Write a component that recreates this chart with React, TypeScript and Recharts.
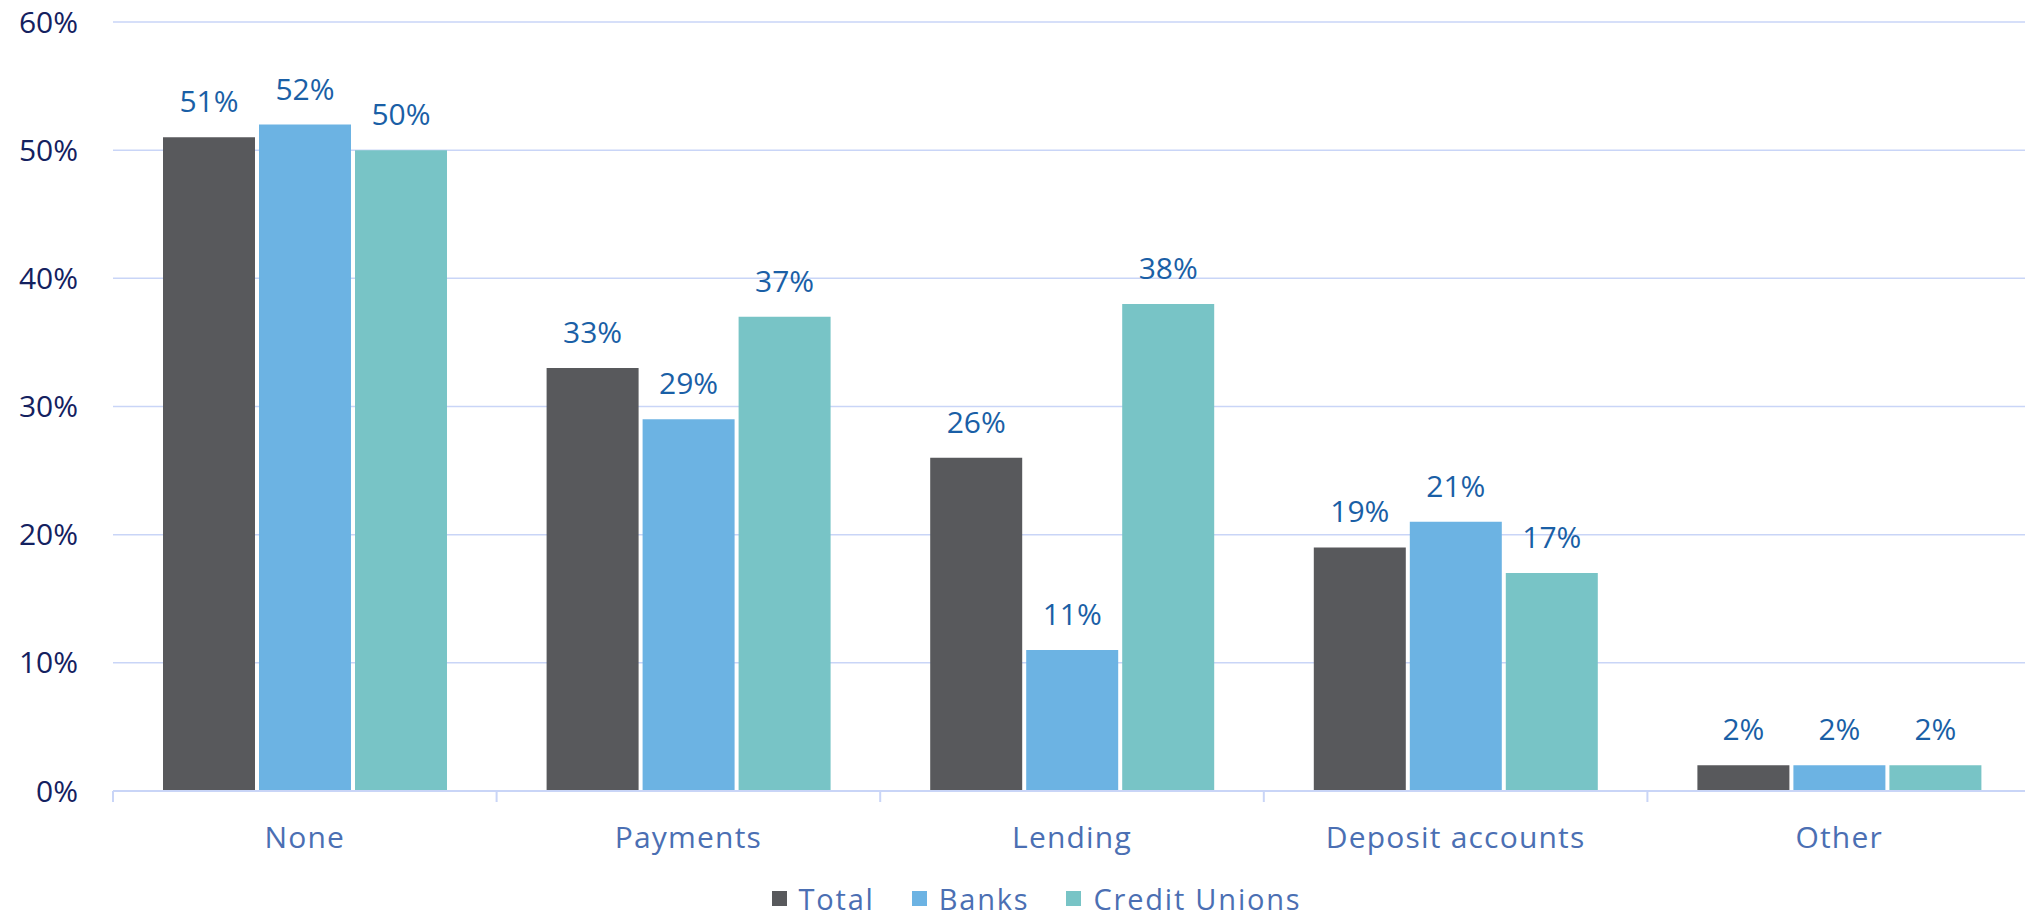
import React from "react";
import { BarChart, Bar, XAxis, YAxis, CartesianGrid, LabelList, Legend } from "recharts";

const categories = ["None", "Payments", "Lending", "Deposit accounts", "Other"];
const totalValues = [51, 33, 26, 19, 2];
const bankValues = [52, 29, 11, 21, 2];
const creditUnionValues = [50, 37, 38, 17, 2];
const yTicks = [0, 10, 20, 30, 40, 50, 60];

const series = [
  { key: "total", name: "Total", color: "#58595c" },
  { key: "banks", name: "Banks", color: "#6cb3e3" },
  { key: "cu", name: "Credit Unions", color: "#78c4c6" },
];

const data = categories.map((c, i) => ({
  category: c,
  total: totalValues[i],
  banks: bankValues[i],
  cu: creditUnionValues[i],
}));

const FONT = "'Open Sans', sans-serif";
const GRID = "#c9d5f7";

const XTick = (props: any) => {
  const { x, y, payload, index } = props;
  const half = payload && payload.offset ? payload.offset : 191;
  return (
    <g>
      <line x1={x - half} y1={y} x2={x - half} y2={y + 11} stroke={GRID} strokeWidth={2} />
      {index === categories.length - 1 ? (
        <line x1={x + half} y1={y} x2={x + half} y2={y + 11} stroke={GRID} strokeWidth={2} />
      ) : null}
      <text
        x={x}
        y={y + 57}
        textAnchor="middle"
        fill="#4b6fb3"
        fontSize={30}
        fontFamily={FONT}
        letterSpacing={1.2}
      >
        {payload.value}
      </text>
    </g>
  );
};

const LegendContent = () => (
  <div
    style={{
      display: "flex",
      justifyContent: "center",
      alignItems: "center",
      paddingLeft: 48,
      fontFamily: FONT,
      fontSize: 29,
      color: "#4b6fb3",
      lineHeight: "normal",
      letterSpacing: "1.8px",
    }}
  >
    {series.map((s, i) => (
      <div key={s.key} style={{ display: "flex", alignItems: "center", marginLeft: i === 0 ? 0 : 37 }}>
        <span style={{ width: 15, height: 15, background: s.color, display: "inline-block", marginRight: 12 }} />
        <span>{s.name}</span>
      </div>
    ))}
  </div>
);

export default function App() {
  return (
    <div
      style={{
        position: "absolute",
        left: 0,
        top: 0,
        width: 2025,
        height: 920,
        background: "#fff",
        overflow: "hidden",
      }}
    >
      <BarChart
        width={2031}
        height={920}
        data={data}
        margin={{ top: 22, right: 0, left: 0, bottom: 0 }}
        barGap={4}
        barSize={92}
      >
        <CartesianGrid vertical={false} stroke={GRID} strokeWidth={1.5} />
        <XAxis
          dataKey="category"
          height={129}
          axisLine={{ stroke: GRID, strokeWidth: 2 }}
          tickLine={false}
          tickSize={0}
          tickMargin={0}
          tick={<XTick />}
          interval={0}
        />
        <YAxis
          width={113}
          domain={[0, 60]}
          ticks={yTicks}
          axisLine={false}
          tickLine={false}
          tickSize={0}
          tickMargin={35}
          tickFormatter={(v: number) => `${v}%`}
          tick={{ fill: "#14215f", fontSize: 30, fontFamily: FONT }}
        />
        <Legend
          layout="horizontal"
          verticalAlign="middle"
          align="center"
          wrapperStyle={{ top: 879, left: 0, width: 2025 }}
          content={<LegendContent />}
        />
        {series.map((s) => (
          <Bar key={s.key} dataKey={s.key} name={s.name} fill={s.color} isAnimationActive={false}>
            <LabelList
              dataKey={s.key}
              position="top"
              offset={25}
              formatter={(v: number) => `${v}%`}
              style={{ fill: "#1a5fa6", fontSize: 30, fontFamily: FONT }}
            />
          </Bar>
        ))}
      </BarChart>
    </div>
  );
}
